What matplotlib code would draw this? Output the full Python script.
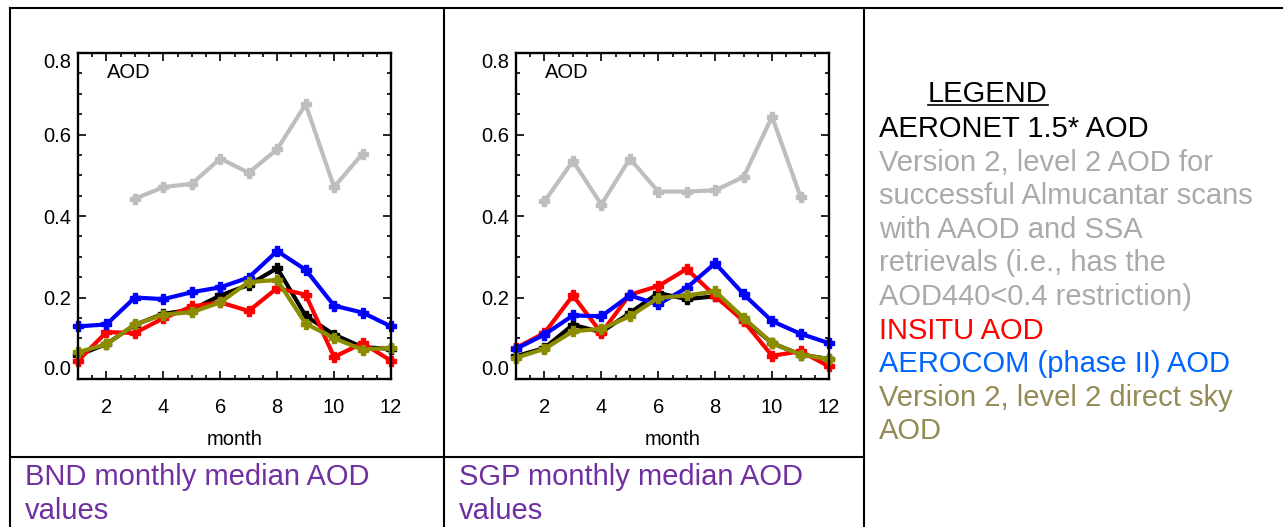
import numpy as np
import matplotlib
matplotlib.use('Agg')
import matplotlib.pyplot as plt
from matplotlib.lines import Line2D
from matplotlib.ticker import MultipleLocator

plt.rcParams['font.family'] = ['Liberation Sans', 'DejaVu Sans']

W, H = 1283, 527

months = np.arange(1, 13)
nan = np.nan

# BND monthly median AOD
bnd_aeronet = [0.058, 0.086, 0.133, 0.160, 0.170, 0.205, 0.231, 0.272, 0.155, 0.109, 0.078, 0.074]
bnd_almucantar = [nan, nan, 0.442, 0.471, 0.479, 0.541, 0.506, 0.564, 0.674, 0.471, 0.553, nan]
bnd_insitu = [0.045, 0.115, 0.113, 0.149, 0.178, 0.188, 0.167, 0.223, 0.207, 0.054, 0.088, 0.045]
bnd_aerocom = [0.129, 0.134, 0.200, 0.196, 0.213, 0.225, 0.249, 0.314, 0.268, 0.180, 0.163, 0.129]
bnd_direct = [0.066, 0.085, 0.134, 0.158, 0.164, 0.188, 0.238, 0.243, 0.136, 0.100, 0.072, 0.077]

# SGP monthly median AOD
sgp_aeronet = [0.056, 0.076, 0.133, 0.115, 0.162, 0.211, 0.196, 0.203, 0.146, 0.088, 0.060, 0.049]
sgp_almucantar = [nan, 0.436, 0.535, 0.428, 0.541, 0.460, 0.460, 0.463, 0.496, 0.644, 0.447, nan]
sgp_insitu = [0.076, 0.113, 0.205, 0.113, 0.207, 0.228, 0.270, 0.204, 0.142, 0.057, 0.068, 0.031]
sgp_aerocom = [0.074, 0.109, 0.156, 0.154, 0.205, 0.183, 0.224, 0.284, 0.208, 0.142, 0.111, 0.088]
sgp_direct = [0.052, 0.074, 0.117, 0.123, 0.154, 0.199, 0.205, 0.215, 0.150, 0.088, 0.060, 0.049]

captions = ['BND monthly median AOD\nvalues', 'SGP monthly median AOD\nvalues']

legend_lines = [
    ('AERONET 1.5* AOD', 'black'),
    ('Version 2, level 2 AOD for', '#AAAAAA'),
    ('successful Almucantar scans', '#AAAAAA'),
    ('with AAOD and SSA', '#AAAAAA'),
    ('retrievals (i.e., has the', '#AAAAAA'),
    ('AOD440<0.4 restriction)', '#AAAAAA'),
    ('INSITU AOD', '#FF0000'),
    ('AEROCOM (phase II) AOD', '#0066FF'),
    ('Version 2, level 2 direct sky', '#948A54'),
    ('AOD', '#948A54'),
]


def fx(x):
    return x / W


def fy(y):
    return 1 - y / H


fig = plt.figure(figsize=(W / 100, H / 100), dpi=100)

panels = [
    (78, [bnd_almucantar, bnd_aeronet, bnd_insitu, bnd_aerocom, bnd_direct]),
    (516, [sgp_almucantar, sgp_aeronet, sgp_insitu, sgp_aerocom, sgp_direct]),
]
colors = ['#BEBEBE', 'black', '#FF0000', '#0000FF', '#8C8C00']

for left, series in panels:
    ax = fig.add_axes([fx(left), fy(379), 313 / W, 326 / H])
    for vals, c in zip(series, colors):
        ax.plot(months, vals, color=c, lw=3.0, marker='P', ms=7,
                solid_joinstyle='round', clip_on=False)
    ax.set_xlim(1, 12)
    ax.set_ylim(0, 0.8)
    ax.xaxis.set_major_locator(MultipleLocator(2))
    ax.xaxis.set_minor_locator(MultipleLocator(0.5))
    ax.yaxis.set_major_locator(MultipleLocator(0.2))
    ax.yaxis.set_minor_locator(MultipleLocator(0.05))
    ax.tick_params(which='both', direction='in', top=True, right=True, width=1.2)
    ax.tick_params(which='major', length=5.5)
    ax.tick_params(which='minor', length=2.6)
    ax.tick_params(axis='x', pad=14, labelsize=14.5)
    ax.tick_params(axis='y', pad=5, labelsize=14.5)
    ax.set_yticks([0, 0.2, 0.4, 0.6, 0.8])
    ax.set_yticklabels(['0.0', '0.2', '0.4', '0.6', '0.8'])
    ylabs = ax.get_yticklabels()
    ylabs[0].set_va('bottom')
    ylabs[-1].set_va('top')
    for s in ax.spines.values():
        s.set_linewidth(1.7)
    ax.set_xlabel('month', fontsize=14.5)
    ax.xaxis.set_label_coords(0.5, -0.155)
    ax.xaxis.label.set_va('top')
    ax.text(29 / 313, 0.94, 'AOD', transform=ax.transAxes, fontsize=14.5,
            va='center', ha='left')

# table lines
lw = 1.5
fig.add_artist(Line2D([fx(9.5), fx(W)], [fy(7.5), fy(7.5)], color='black', lw=lw))
fig.add_artist(Line2D([fx(9.5), fx(9.5)], [fy(7.5), fy(H)], color='black', lw=lw))
fig.add_artist(Line2D([fx(444), fx(444)], [fy(7.5), fy(H)], color='black', lw=lw))
fig.add_artist(Line2D([fx(864), fx(864)], [fy(7.5), fy(H)], color='black', lw=lw))
fig.add_artist(Line2D([fx(9.5), fx(864)], [fy(457), fy(457)], color='black', lw=lw))

# captions
for x0, cap in zip([25, 459], captions):
    for i, line in enumerate(cap.split('\n')):
        fig.text(fx(x0), fy(485 + i * 33.6), line, color='#7030A0',
                 fontsize=21, va='baseline', ha='left')

# legend cell
fig.text(fx(928), fy(102.5), 'LEGEND', fontsize=21, va='baseline', ha='left')
fig.add_artist(Line2D([fx(928), fx(1048)], [fy(104.5), fy(104.5)], color='black', lw=1.2))
for i, (txt, c) in enumerate(legend_lines):
    fig.text(fx(879), fy(137 + i * 33.6), txt, color=c, fontsize=21,
             va='baseline', ha='left')

fig.savefig('out.png', dpi=100)
